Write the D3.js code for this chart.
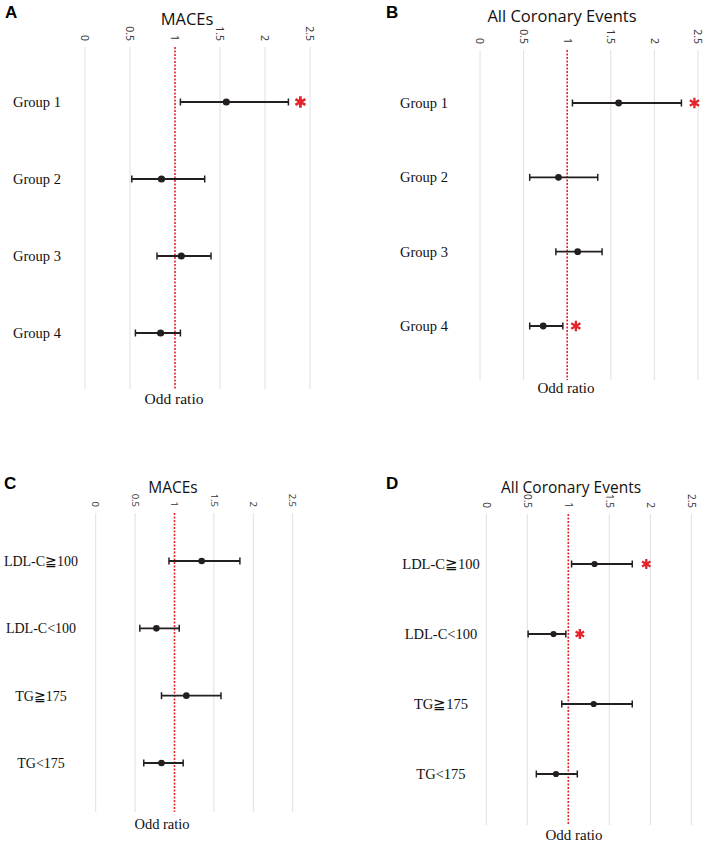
<!DOCTYPE html>
<html>
<head>
<meta charset="utf-8">
<script src="https://cdn.jsdelivr.net/npm/d3@7"></script>
<style>
  html, body { margin: 0; padding: 0; background: #fff; }
  svg { display: block; }
</style>
</head>
<body>
<svg id="chart" width="708" height="850"></svg>
<script>
// ---------- data ----------
const tickValues = [0, 0.5, 1, 1.5, 2, 2.5];
const tickLabels = ["0", "0.5", "1", "1.5", "2", "2.5"];
const referenceValue = 1;

const groupCategories = ["Group 1", "Group 2", "Group 3", "Group 4"];
const lipidCategories = ["LDL-C≧100", "LDL-C<100", "TG≧175", "TG<175"];

const panelTitles = ["MACEs", "All Coronary Events", "MACEs", "All Coronary Events"];
const panelLetters = ["A", "B", "C", "D"];
const axisTitle = "Odd ratio";

// A: MACEs by group
const maceGroupOR    = [1.57, 0.85, 1.07, 0.84];
const maceGroupLower = [1.06, 0.52, 0.80, 0.56];
const maceGroupUpper = [2.26, 1.33, 1.40, 1.06];
const maceGroupSig   = [true, false, false, false];

// B: All coronary events by group
const coronaryGroupOR    = [1.59, 0.90, 1.12, 0.725];
const coronaryGroupLower = [1.06, 0.57, 0.87, 0.57];
const coronaryGroupUpper = [2.31, 1.35, 1.40, 0.95];
const coronaryGroupSig   = [true, false, false, true];

// C: MACEs by lipid level
const maceLipidOR    = [1.345, 0.77, 1.15, 0.835];
const maceLipidLower = [0.93, 0.56, 0.835, 0.61];
const maceLipidUpper = [1.83, 1.06, 1.59, 1.11];
const maceLipidSig   = [false, false, false, false];

// D: All coronary events by lipid level
const coronaryLipidOR    = [1.32, 0.82, 1.31, 0.85];
const coronaryLipidLower = [1.04, 0.51, 0.92, 0.61];
const coronaryLipidUpper = [1.78, 0.97, 1.78, 1.11];
const coronaryLipidSig   = [true, true, false, false];

// ---------- layout (pixels) ----------
const panels = [
  { letter: panelLetters[0], title: panelTitles[0], cats: groupCategories,
    or: maceGroupOR, lo: maceGroupLower, hi: maceGroupUpper, sig: maceGroupSig,
    x0: 85, x1: 310, top: 47, bottom: 389, rowTop: 102, rowBottom: 333,
    letterX: 5, letterY: 18, titleX: 187, titleY: 25, titleSize: 16.5,
    labelX: 37, labelSize: 14.5, axisTitleX: 174, axisTitleY: 404, axisTitleSize: 15.5,
    dotR: 3.6, starSize: 13, starOffset: 12, tickSize: 10.5 },
  { letter: panelLetters[1], title: panelTitles[1], cats: groupCategories,
    or: coronaryGroupOR, lo: coronaryGroupLower, hi: coronaryGroupUpper, sig: coronaryGroupSig,
    x0: 480, x1: 698, top: 50, bottom: 380, rowTop: 103, rowBottom: 326,
    letterX: 386, letterY: 17.5, titleX: 562, titleY: 21.5, titleSize: 16.5,
    labelX: 424, labelSize: 14.5, axisTitleX: 566, axisTitleY: 392.5, axisTitleSize: 15,
    dotR: 3.4, starSize: 12, starOffset: 13, tickSize: 10.5 },
  { letter: panelLetters[2], title: panelTitles[2], cats: lipidCategories,
    or: maceLipidOR, lo: maceLipidLower, hi: maceLipidUpper, sig: maceLipidSig,
    x0: 95.7, x1: 292.7, top: 513, bottom: 812, rowTop: 561, rowBottom: 763,
    letterX: 4, letterY: 489, titleX: 173, titleY: 492.5, titleSize: 15.5,
    labelX: 41, labelSize: 14, axisTitleX: 162, axisTitleY: 828.5, axisTitleSize: 14.5,
    dotR: 3.3, starSize: 11, starOffset: 13, tickSize: 9.5 },
  { letter: panelLetters[3], title: panelTitles[3], cats: lipidCategories,
    or: coronaryLipidOR, lo: coronaryLipidLower, hi: coronaryLipidUpper, sig: coronaryLipidSig,
    x0: 486.3, x1: 691.3, top: 514, bottom: 825, rowTop: 564, rowBottom: 774,
    letterX: 386, letterY: 489, titleX: 571, titleY: 492.5, titleSize: 15.5,
    labelX: 441, labelSize: 14.5, axisTitleX: 574, axisTitleY: 839.5, axisTitleSize: 15,
    dotR: 3.1, starSize: 11, starOffset: 14, tickSize: 10 }
];

const svg = d3.select("#chart");
const ink = "#231f20";
const red = "#e3242b";

panels.forEach(p => {
  const g = svg.append("g");
  const x = d3.scaleLinear().domain([tickValues[0], tickValues[tickValues.length - 1]]).range([p.x0, p.x1]);
  const y = d3.scalePoint().domain(p.cats).range([p.rowTop, p.rowBottom]);

  // panel letter
  g.append("text")
    .attr("x", p.letterX).attr("y", p.letterY)
    .attr("font-family", "Liberation Sans, Arial, sans-serif")
    .attr("font-weight", "bold").attr("font-size", 17)
    .attr("fill", "#000").text(p.letter);

  // title
  g.append("text")
    .attr("x", p.titleX).attr("y", p.titleY)
    .attr("text-anchor", "middle")
    .attr("font-family", "Open Sans, Noto Sans, sans-serif")
    .attr("font-size", p.titleSize).attr("fill", "#111")
    .text(p.title);

  // gridlines (skip reference value, drawn as red dotted line)
  g.append("g").selectAll("line")
    .data(tickValues.filter(v => v !== referenceValue))
    .join("line")
    .attr("x1", d => x(d)).attr("x2", d => x(d))
    .attr("y1", p.top).attr("y2", p.bottom)
    .attr("stroke", "#e0e0e0").attr("stroke-width", 1);

  // rotated tick labels
  g.append("g").selectAll("text")
    .data(tickValues)
    .join("text")
    .attr("transform", d => `translate(${x(d)},${p.top - 6}) rotate(90)`)
    .attr("text-anchor", "end")
    .attr("dy", "0.35em")
    .attr("font-family", "Open Sans, Noto Sans, sans-serif")
    .attr("font-size", p.tickSize).attr("fill", "#333")
    .text((d, i) => tickLabels[i]);

  // reference line
  g.append("line")
    .attr("x1", x(referenceValue)).attr("x2", x(referenceValue))
    .attr("y1", p.top).attr("y2", p.bottom)
    .attr("stroke", red).attr("stroke-width", 1.6)
    .attr("stroke-dasharray", "2,1.5");

  // category labels
  g.append("g").selectAll("text")
    .data(p.cats)
    .join("text")
    .attr("x", p.labelX).attr("y", d => y(d))
    .attr("dy", "0.35em").attr("text-anchor", "middle")
    .attr("font-family", "Liberation Serif, Times New Roman, serif")
    .attr("font-size", p.labelSize).attr("fill", "#111")
    .text(d => d);

  const rows = p.cats.map((c, i) => ({ c, or: p.or[i], lo: p.lo[i], hi: p.hi[i], sig: p.sig[i] }));

  const bars = g.append("g").selectAll("g").data(rows).join("g");
  bars.append("line")
    .attr("x1", d => x(d.lo)).attr("x2", d => x(d.hi))
    .attr("y1", d => y(d.c)).attr("y2", d => y(d.c))
    .attr("stroke", ink).attr("stroke-width", 1.8);
  bars.append("line")
    .attr("x1", d => x(d.lo)).attr("x2", d => x(d.lo))
    .attr("y1", d => y(d.c) - 3.5).attr("y2", d => y(d.c) + 3.5)
    .attr("stroke", ink).attr("stroke-width", 1.5);
  bars.append("line")
    .attr("x1", d => x(d.hi)).attr("x2", d => x(d.hi))
    .attr("y1", d => y(d.c) - 3.5).attr("y2", d => y(d.c) + 3.5)
    .attr("stroke", ink).attr("stroke-width", 1.5);
  bars.append("circle")
    .attr("cx", d => x(d.or)).attr("cy", d => y(d.c))
    .attr("r", p.dotR).attr("fill", ink);

  // significance stars
  const star = d3.symbol().type(d3.symbolAsterisk).size(p.starSize * p.starSize * 0.55);
  g.append("g").selectAll("path")
    .data(rows.filter(d => d.sig))
    .join("path")
    .attr("transform", d => `translate(${x(d.hi) + p.starOffset},${y(d.c)})`)
    .attr("d", star)
    .attr("fill", "none").attr("stroke", red)
    .attr("stroke-width", p.starSize > 12 ? 2.8 : 2.3);

  // axis title
  g.append("text")
    .attr("x", p.axisTitleX).attr("y", p.axisTitleY)
    .attr("text-anchor", "middle")
    .attr("font-family", "Liberation Serif, Times New Roman, serif")
    .attr("font-size", p.axisTitleSize).attr("fill", "#111")
    .text(axisTitle);
});
</script>
</body>
</html>
